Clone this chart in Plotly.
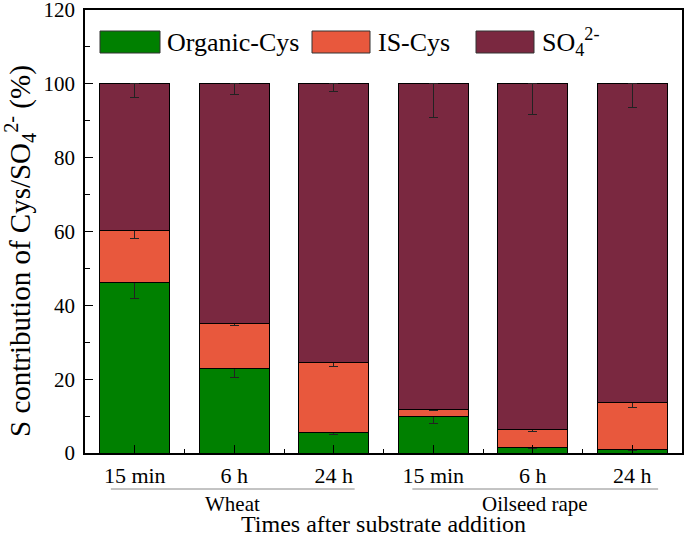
import plotly.graph_objects as go

times = ["15 min", "6 h", "24 h", "15 min", "6 h", "24 h"]
groups = ["Wheat", "Oilseed rape"]

organic = [46.1, 22.8, 5.5, 9.8, 1.4, 1.0]
organic_err = [4.2, 2.4, 0.5, 1.9, 0.3, 0.3]
is_cys = [14.1, 12.4, 18.9, 1.9, 4.9, 12.6]   # segment heights (top - organic)
is_err = [2.2, 0.6, 0.9, 0.3, 0.5, 1.3]
so4 = [39.8, 64.8, 75.6, 88.3, 93.7, 86.4]
so4_err = [3.6, 3.0, 2.2, 9.1, 8.2, 6.3]

colors = ["#008000", "#E8583D", "#7A2840"]
names = ["Organic-Cys", "IS-Cys", "SO<sub>4</sub><sup>2-</sup>"]
FONT = "Liberation Serif"

W, H = 685, 537
L, R, T, B = 85, 3, 10, 84
PW, PH = W - L - R, H - T - B

x = list(range(len(times)))
fig = go.Figure()
series = [(organic, organic_err, True), (is_cys, is_err, True), (so4, so4_err, False)]
for (vals, err, sym), col, nm in zip(series, colors, names):
    ey = dict(type="data", array=err, color="#222222", thickness=1, width=4.5)
    if not sym:
        ey = dict(type="data", symmetric=False, array=[0] * len(err), arrayminus=err,
                  color="#222222", thickness=1, width=4.5)
    fig.add_trace(go.Bar(x=x, y=vals, name=nm, width=0.7,
                         marker=dict(color=col, line=dict(color="black", width=1)),
                         error_y=ey, showlegend=False))

def px(v):
    return (v - L) / PW

def py(v):
    return (H - B - v) / PH

# custom legend (wide swatches like the original)
legend_items = [(100, 160, 165, names[0]), (312, 370, 376, names[1]), (476, 534, 540, names[2])]
shapes = []
annotations = []
for (x0, x1, tx, nm), col in zip(legend_items, colors):
    shapes.append(dict(type="rect", xref="paper", yref="paper",
                       x0=px(x0), x1=px(x1), y0=py(53), y1=py(31),
                       fillcolor=col, line=dict(color="#333333", width=1)))
    annotations.append(dict(text=nm, xref="paper", yref="paper", x=px(tx), y=py(42),
                            xanchor="left", yanchor="middle", showarrow=False,
                            font=dict(family=FONT, size=26, color="black")))

# group lines + labels under the x axis
for g, (a, b) in zip(groups, [(-0.24, 2.21), (2.79, 5.26)]):
    shapes.append(dict(type="line", xref="x", yref="paper", x0=a, x1=b,
                       y0=py(489), y1=py(489), line=dict(color="#888888", width=1)))
    annotations.append(dict(text=g, xref="x", yref="paper", x=(a + b) / 2, y=py(504),
                            xanchor="center", yanchor="middle", showarrow=False,
                            font=dict(family=FONT, size=21, color="black")))

annotations.append(dict(text="Times after substrate addition", xref="paper", yref="paper",
                        x=px(383), y=py(524), xanchor="center", yanchor="middle", showarrow=False,
                        font=dict(family=FONT, size=24, color="black")))

annotations.append(dict(text="S contribution of Cys/SO<sub>4</sub><sup>2-</sup> (%)",
                        xref="paper", yref="paper", x=px(20), y=py(251), textangle=-90,
                        xanchor="center", yanchor="middle", showarrow=False,
                        font=dict(family=FONT, size=29, color="black")))

fig.update_layout(
    barmode="stack",
    width=W, height=H,
    margin=dict(l=L, r=R, t=T, b=B),
    plot_bgcolor="white", paper_bgcolor="white",
    font=dict(family=FONT, size=22, color="black"),
    shapes=shapes, annotations=annotations,
    xaxis=dict(range=[-0.5, 5.5], tickvals=x, ticktext=times, ticks="inside", ticklen=8,
               tickcolor="black", showline=True, linecolor="black", linewidth=1.5, mirror=True,
               showgrid=False, zeroline=False, tickfont=dict(size=22), automargin=False,
               ticklabelstandoff=2,
               minor=dict(tickvals=[0.5, 1.5, 2.5, 3.5, 4.5], ticks="inside", ticklen=4,
                          tickcolor="black")),
    yaxis=dict(range=[0, 120], dtick=20, ticks="inside", ticklen=8, tickcolor="black",
               showline=True, linecolor="black", linewidth=1.5, mirror=True, showgrid=False,
               zeroline=False, tickfont=dict(size=21), automargin=False,
               ticklabelstandoff=4, ticklabeloverflow="allow",
               minor=dict(dtick=10, ticks="inside", ticklen=5, tickcolor="black")),
)

fig.write_html("out.html", config={"displayModeBar": False},
               post_script="document.body.style.margin='0';")
